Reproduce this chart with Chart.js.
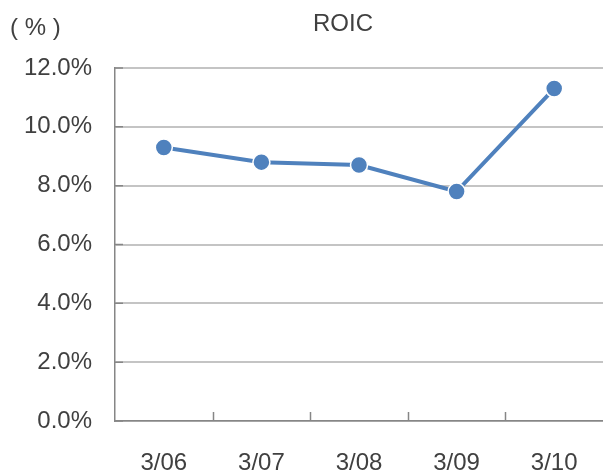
<!DOCTYPE html>
<html>
<head>
<meta charset="utf-8">
<script src="https://cdn.jsdelivr.net/npm/chart.js@4/dist/chart.umd.min.js"></script>
<style>
    html, body { margin: 0; padding: 0; background: #ffffff; }
    #wrap { width: 603px; height: 476px; position: relative; }
</style>
</head>
<body>
<div id="wrap"><canvas id="roicChart"></canvas></div>
<script>
const years = ['3/06', '3/07', '3/08', '3/09', '3/10'];
const roicValues = [9.3, 8.8, 8.7, 7.8, 11.3];
const yTicks = [0, 2, 4, 6, 8, 10, 12];

const chartTitle = 'ROIC';
const unitLabel = '( % )';

const textColor = '#404040';
const axisColor = '#868686';
const lineBlue = '#4f81bd';
const fontFamily = '"Liberation Sans", Arial, sans-serif';

// title + unit label, and the small inward tick marks on both axes
const decorations = {
    id: 'decorations',
    afterDraw(chart) {
        const ctx = chart.ctx;
        const x = chart.scales.x;
        const y = chart.scales.y;
        const area = chart.chartArea;
        ctx.save();
        ctx.fillStyle = textColor;
        ctx.font = '24px ' + fontFamily;
        ctx.textBaseline = 'middle';
        ctx.textAlign = 'center';
        ctx.fillText(chartTitle, 343, 24);
        ctx.textAlign = 'left';
        ctx.fillText(unitLabel, 10, 28);

        ctx.strokeStyle = axisColor;
        ctx.lineWidth = 1.5;
        ctx.beginPath();
        for (let i = 1; i < years.length; i++) {
            const px = Math.round((x.getPixelForValue(i - 1) + x.getPixelForValue(i)) / 2) + 0.5;
            ctx.moveTo(px, area.bottom);
            ctx.lineTo(px, area.bottom - 9);
        }
        yTicks.forEach(v => {
            const py = y.getPixelForValue(v);
            ctx.moveTo(area.left, py);
            ctx.lineTo(area.left + 8, py);
        });
        ctx.stroke();
        ctx.restore();
    }
};

new Chart(document.getElementById('roicChart'), {
    type: 'line',
    data: {
        labels: years,
        datasets: [{
            label: chartTitle,
            data: roicValues,
            borderColor: lineBlue,
            borderWidth: 4,
            tension: 0,
            pointRadius: 8.5,
            pointHoverRadius: 8.5,
            pointBackgroundColor: lineBlue,
            pointBorderColor: '#ffffff',
            pointBorderWidth: 1.5
        }]
    },
    options: {
        responsive: true,
        maintainAspectRatio: false,
        animation: false,
        layout: { autoPadding: false, padding: { top: 68, right: 0, bottom: 0, left: 0 } },
        plugins: {
            legend: { display: false },
            title: { display: false },
            tooltip: { enabled: false }
        },
        scales: {
            x: {
                offset: true,
                grid: { display: false, drawTicks: false },
                border: { color: axisColor, width: 1.5 },
                ticks: { color: textColor, padding: 28, font: { family: fontFamily, size: 24 } },
                afterFit(scale) {
                    scale.height = 55;
                    scale.paddingLeft = 0;
                    scale.paddingRight = 0;
                }
            },
            y: {
                min: 0,
                max: 12,
                afterBuildTicks(scale) { scale.ticks = yTicks.map(v => ({ value: v })); },
                grid: { color: '#c4c4c4', lineWidth: 2, drawTicks: false },
                border: { color: axisColor, width: 1.5 },
                ticks: {
                    color: textColor,
                    padding: 23,
                    font: { family: fontFamily, size: 24 },
                    callback: v => v.toFixed(1) + '%'
                },
                afterFit(scale) { scale.width = 115; }
            }
        }
    },
    plugins: [decorations]
});
</script>
</body>
</html>
